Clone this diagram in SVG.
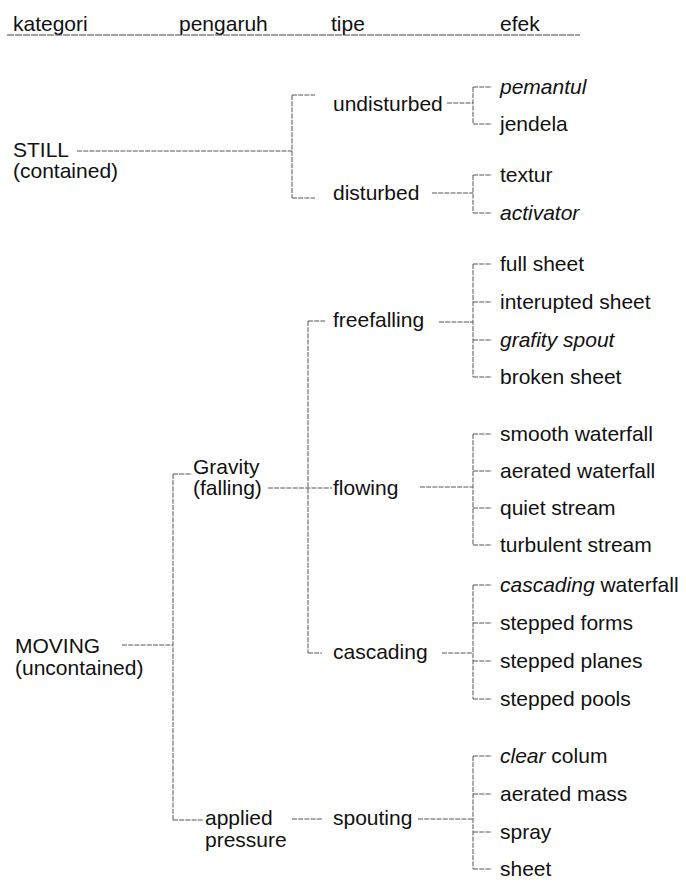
<svg xmlns="http://www.w3.org/2000/svg" width="686" height="883" viewBox="0 0 686 883">
  <style>
    text { font-family: "Liberation Sans", Arial, sans-serif; font-size: 21px; fill: #111; }
    .it { font-style: italic; }
    .ln { stroke: #555; stroke-width: 1; fill: none; stroke-dasharray: 5 1.2; }
    .hd { stroke: #444; stroke-width: 1; fill: none; stroke-dasharray: 7 1; }
  </style>
  <rect width="686" height="883" fill="#fff"/>

  <!-- column headings -->
  <g id="header">
    <text x="13" y="31">kategori</text>
    <text x="179" y="31">pengaruh</text>
    <text x="331" y="31">tipe</text>
    <text x="500" y="31">efek</text>
    <line class="hd" x1="7" y1="35" x2="580" y2="35"/>
  </g>

  <!-- tree connectors -->
  <g id="connectors">
    <!-- STILL branch -->
    <path class="ln" d="M77 151H292M292 95V198M292 95H315M292 198H315"/>
    <path class="ln" d="M447 103H473M473 87V124M473 87H492M473 124H492"/>
    <path class="ln" d="M432 193H473M473 175V213M473 175H492M473 213H492"/>
    <!-- MOVING branch -->
    <path class="ln" d="M122 645H173M173 474V820M173 474H192M173 820H203"/>
    <path class="ln" d="M268 488H332M308 321V653M308 321H325M308 653H322"/>
    <path class="ln" d="M292 819H322"/>
    <!-- freefalling -->
    <path class="ln" d="M439 322H473M473 264V377M473 264H492M473 302H492M473 340H492M473 377H492"/>
    <!-- flowing -->
    <path class="ln" d="M420 487H473M473 434V545M473 434H492M473 471H492M473 508H492M473 545H492"/>
    <!-- cascading -->
    <path class="ln" d="M442 653H473M473 585V699M473 585H492M473 623H492M473 661H492M473 699H492"/>
    <!-- spouting -->
    <path class="ln" d="M418 819H473M473 756V869M473 756H492M473 794H492M473 832H492M473 869H492"/>
  </g>

  <!-- kategori -->
  <g id="still">
    <text x="13" y="157">STILL<tspan x="13" dy="21">(contained)</tspan></text>
  </g>
  <g id="moving">
    <text x="15" y="653">MOVING<tspan x="15" dy="22">(uncontained)</tspan></text>
  </g>

  <!-- pengaruh -->
  <g id="gravity">
    <text x="193" y="474">Gravity<tspan x="193" dy="21">(falling)</tspan></text>
  </g>
  <g id="applied-pressure">
    <text x="205" y="825">applied<tspan x="205" dy="22">pressure</tspan></text>
  </g>

  <!-- tipe -->
  <g id="undisturbed"><text x="333" y="111">undisturbed</text></g>
  <g id="disturbed"><text x="333" y="200">disturbed</text></g>
  <g id="freefalling"><text x="333" y="327">freefalling</text></g>
  <g id="flowing"><text x="333" y="495">flowing</text></g>
  <g id="cascading"><text x="333" y="659">cascading</text></g>
  <g id="spouting"><text x="333" y="825">spouting</text></g>

  <!-- efek -->
  <g id="pemantul"><text class="it" x="500" y="94">pemantul</text></g>
  <g id="jendela"><text x="500" y="131">jendela</text></g>
  <g id="textur"><text x="500" y="182">textur</text></g>
  <g id="activator"><text class="it" x="500" y="220">activator</text></g>

  <g id="full-sheet"><text x="500" y="271">full sheet</text></g>
  <g id="interupted-sheet"><text x="500" y="309">interupted sheet</text></g>
  <g id="grafity-spout"><text class="it" x="500" y="347">grafity spout</text></g>
  <g id="broken-sheet"><text x="500" y="384">broken sheet</text></g>

  <g id="smooth-waterfall"><text x="500" y="441">smooth waterfall</text></g>
  <g id="aerated-waterfall"><text x="500" y="478">aerated waterfall</text></g>
  <g id="quiet-stream"><text x="500" y="515">quiet stream</text></g>
  <g id="turbulent-stream"><text x="500" y="552">turbulent stream</text></g>

  <g id="cascading-waterfall"><text x="500" y="592"><tspan class="it">cascading</tspan> waterfall</text></g>
  <g id="stepped-forms"><text x="500" y="630">stepped forms</text></g>
  <g id="stepped-planes"><text x="500" y="668">stepped planes</text></g>
  <g id="stepped-pools"><text x="500" y="706">stepped pools</text></g>

  <g id="clear-colum"><text x="500" y="763"><tspan class="it">clear</tspan> colum</text></g>
  <g id="aerated-mass"><text x="500" y="801">aerated mass</text></g>
  <g id="spray"><text x="500" y="839">spray</text></g>
  <g id="sheet"><text x="500" y="876">sheet</text></g>
</svg>
